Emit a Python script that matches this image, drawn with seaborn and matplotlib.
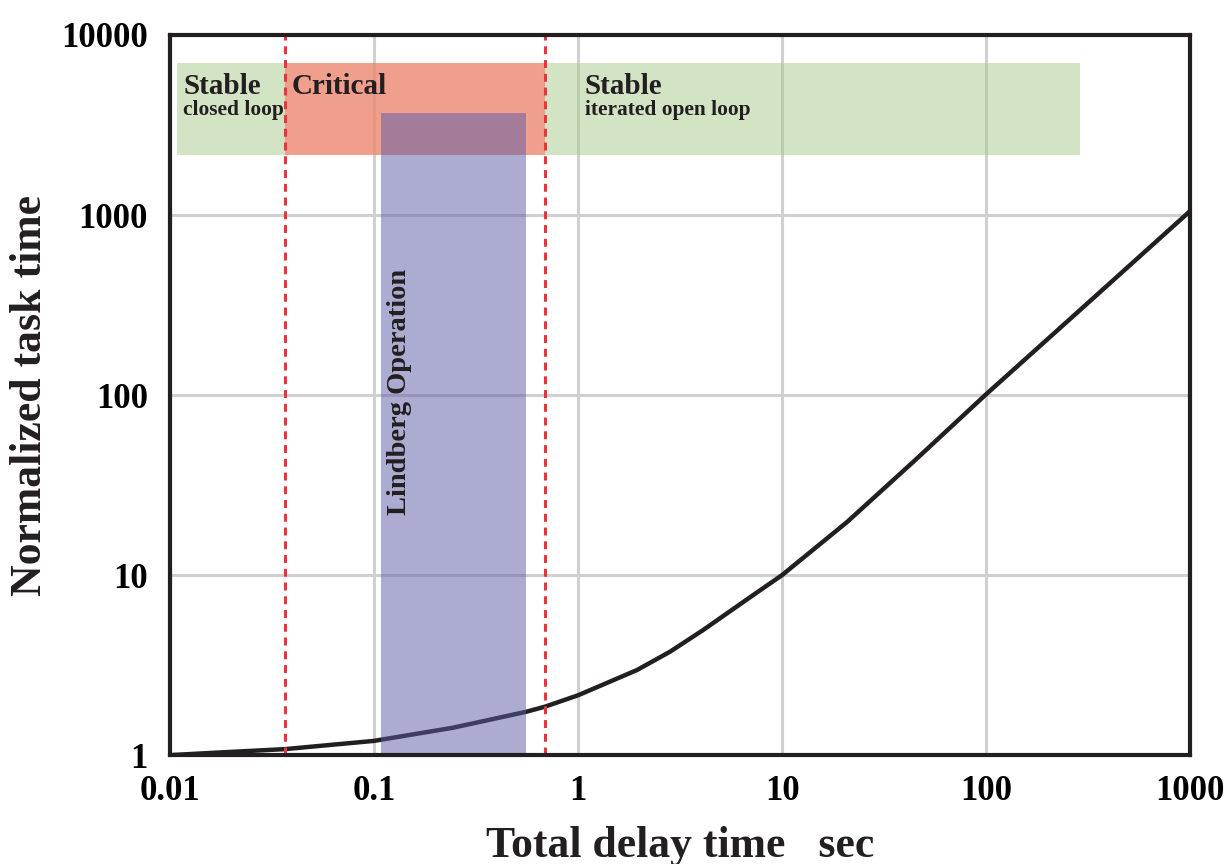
import numpy as np
import pandas as pd
import seaborn as sns
import matplotlib.pyplot as plt

# curve
delay = [0.01, 0.0176, 0.0366, 0.1, 0.244, 0.556, 0.69, 1, 1.945, 2.82, 4.1, 7.21, 10,
         20.8, 43.8, 100, 289, 1000]
task_time = [1.0, 1.035, 1.08, 1.2, 1.42, 1.74, 1.86, 2.15, 2.97, 3.75, 4.95, 7.74, 10,
             19.7, 42.4, 101, 297, 1052]

# regions
band_y = [2154, 6990]
stable_closed = [0.0108, 0.0366]
critical = [0.0366, 0.69]
stable_open = [0.69, 289]
lindberg_x = [0.108, 0.556]
lindberg_top = 3687
critical_lines = [0.0366, 0.69]

xticks = [0.01, 0.1, 1, 10, 100, 1000]
xtick_labels = ['0.01', '0.1', '1', '10', '100', '1000']
yticks = [1, 10, 100, 1000, 10000]
ytick_labels = ['1', '10', '100', '1000', '10000']

df = pd.DataFrame({'delay': delay, 'task_time': task_time})

sns.set_theme(style='white')
plt.rcParams['font.family'] = ['Liberation Serif', 'DejaVu Serif']
plt.rcParams['font.weight'] = 'bold'
txt = '#231f20'

fig = plt.figure(figsize=(12.32, 8.64), dpi=100)
ax = fig.add_axes([0.138, 0.126, 0.828, 0.8335])

ax.set_xscale('log')
ax.set_yscale('log')
ax.set_xlim(0.01, 1000)
ax.set_ylim(1, 10000)

ax.grid(True, which='major', color='#d0d0d0', linewidth=2.2, zorder=0)
ax.set_axisbelow(True)

# bands
for rng in [stable_closed, stable_open]:
    ax.fill_between(rng, band_y[0], band_y[1], color='#a8ca8a', alpha=0.5, lw=0, zorder=1)
ax.fill_between(critical, band_y[0], band_y[1], color='#ec876f', alpha=0.8, lw=0, zorder=1)

sns.lineplot(data=df, x='delay', y='task_time', ax=ax, color='#231f20', linewidth=3.2, zorder=2)
ax.lines[-1].set_solid_joinstyle('round')

ax.fill_between(lindberg_x, 1, lindberg_top, color='#5b59a5', alpha=0.5, lw=0, zorder=3)

for xv in critical_lines:
    ax.axvline(xv, color='#e8343c', linewidth=2.2, linestyle=(0, (2.6, 1.9)), zorder=4)

ax.text(0.0116, 4700, 'Stable', fontsize=21, fontweight='bold', color=txt, ha='left', va='baseline', zorder=5)
ax.text(0.0116, 3594, 'closed loop', fontsize=15.4, fontweight='bold', color=txt, ha='left', va='baseline', zorder=5)
ax.text(0.0396, 4700, 'Critical', fontsize=21, fontweight='bold', color=txt, ha='left', va='baseline', zorder=5)
ax.text(1.08, 4700, 'Stable', fontsize=21, fontweight='bold', color=txt, ha='left', va='baseline', zorder=5)
ax.text(1.08, 3594, 'iterated open loop', fontsize=15.4, fontweight='bold', color=txt, ha='left', va='baseline', zorder=5)
ax.text(0.133, 104, 'Lindberg Operation', fontsize=20.5, fontweight='bold', color=txt, rotation=90,
        ha='center', va='center', zorder=5)

ax.set_xticks(xticks)
ax.set_xticklabels(xtick_labels)
ax.set_yticks(yticks)
ax.set_yticklabels(ytick_labels)
ax.minorticks_off()
ax.tick_params(axis='both', which='major', direction='in', length=7, width=2.5, color='black',
               labelsize=25, labelcolor='black')
ax.tick_params(axis='x', pad=14)
ax.tick_params(axis='y', pad=16)
for lab in ax.get_xticklabels() + ax.get_yticklabels():
    lab.set_fontweight('bold')

for sp in ax.spines.values():
    sp.set_linewidth(3)
    sp.set_color('#231f20')
    sp.set_zorder(6)

ax.set_xlabel('Total delay time   sec', fontsize=31.5, fontweight='bold', color=txt, labelpad=13)
ax.set_ylabel('Normalized task time', fontsize=31.5, fontweight='bold', color=txt, labelpad=8)

fig.savefig('out.png', dpi=100)
